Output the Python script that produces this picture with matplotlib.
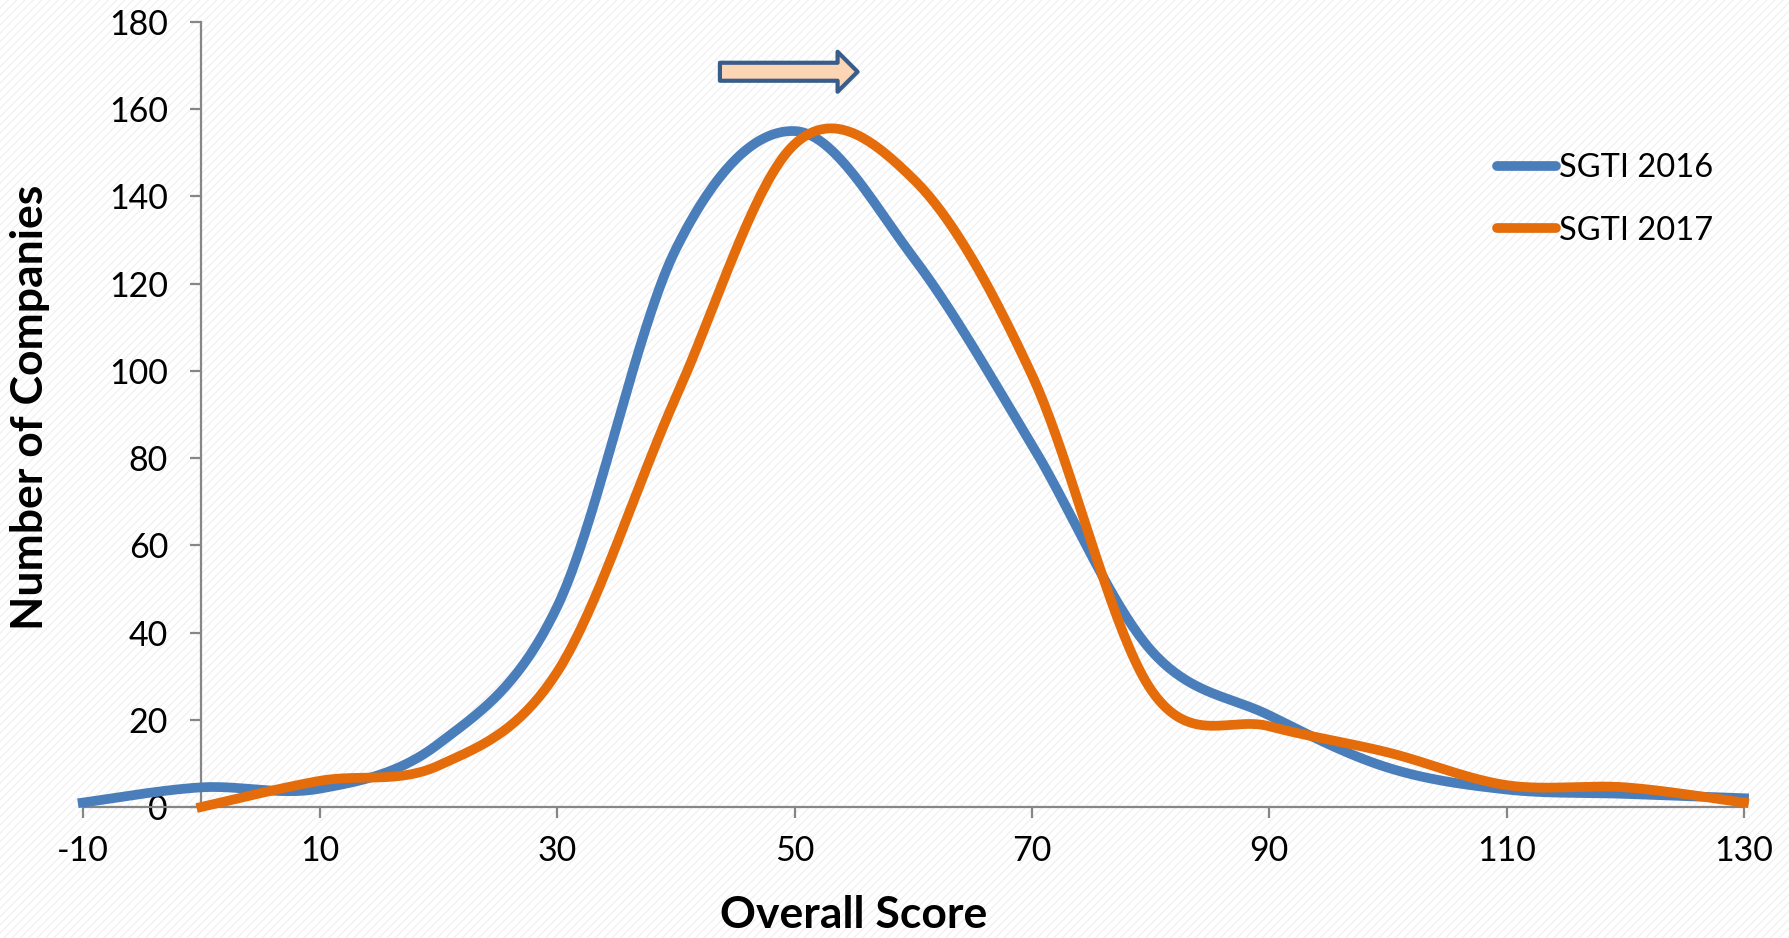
import numpy as np
import matplotlib.pyplot as plt
from matplotlib.lines import Line2D

plt.rcParams['font.family'] = ['Lato', 'DejaVu Sans']
plt.rcParams['axes.unicode_minus'] = False

# distribuzione dei punteggi (classi da 10 punti)
score_2016 = [-10, 0, 10, 20, 30, 40, 50, 60, 70, 80, 90, 100, 110, 120, 130]
count_2016 = [1, 4.5, 4.2, 14.5, 46, 128, 155, 126, 83, 36, 21, 9, 4, 3, 2]

score_2017 = [0, 10, 20, 30, 40, 50, 60, 70, 80, 90, 100, 110, 120, 130]
count_2017 = [0, 6, 9.5, 31, 94, 152, 144, 99, 27, 18.5, 12.5, 5, 4.5, 1]

x_ticks = [-10, 10, 30, 50, 70, 90, 110, 130]
y_ticks = list(range(0, 181, 20))

blu = '#4A7EBB'
arancio = '#E46C0A'
grigio = '#868686'


# linea smussata tipo Excel (Bezier con punti di controllo a 1/6)
def smussa(x, y, n=40):
    p = np.column_stack([x, y]).astype(float)
    out = [p[0]]
    t = np.linspace(0, 1, n)[1:, None]
    for i in range(len(p) - 1):
        p0 = p[i - 1] if i > 0 else p[i]
        p1, p2 = p[i], p[i + 1]
        p3 = p[i + 2] if i + 2 < len(p) else p[i + 1]
        c1 = p1 + (p2 - p0) / 6
        c2 = p2 - (p3 - p1) / 6
        seg = ((1 - t) ** 3) * p1 + 3 * ((1 - t) ** 2) * t * c1 \
            + 3 * (1 - t) * t ** 2 * c2 + t ** 3 * p2
        out.extend(seg)
    out = np.array(out)
    return out[:, 0], out[:, 1]


fig = plt.figure(figsize=(17.9, 9.38), dpi=100)
fig.patch.set_facecolor('white')
# leggero tratteggio di sfondo
sfondo = plt.Rectangle((0, 0), 1, 1, transform=fig.transFigure, facecolor='white',
                       edgecolor='#F1F1F1', hatch='////', linewidth=0, zorder=-10)
fig.patches.append(sfondo)
plt.rcParams['hatch.linewidth'] = 1.0

ax = fig.add_axes([0.0462, 0.1397, 0.9281, 0.8368])
ax.patch.set_alpha(0)

xs, ys = smussa(score_2016, count_2016)
ax.plot(xs, ys, color=blu, lw=7, solid_joinstyle='round', clip_on=False, zorder=3)
xs, ys = smussa(score_2017, count_2017)
ax.plot(xs, ys, color=arancio, lw=7, solid_joinstyle='round', clip_on=False, zorder=4)

ax.set_xlim(-10, 130)
ax.set_ylim(0, 180)
ax.set_xticks(x_ticks)
ax.set_yticks(y_ticks)

ax.spines['left'].set_position(('data', 0))
ax.spines['top'].set_visible(False)
ax.spines['right'].set_visible(False)
for s in ['left', 'bottom']:
    ax.spines[s].set_color(grigio)
    ax.spines[s].set_linewidth(1.6)
ax.tick_params(axis='both', direction='out', length=8, width=1.6, color=grigio,
               labelsize=24.5, labelcolor='black')
ax.tick_params(axis='x', pad=12)
ax.tick_params(axis='y', pad=16)

# freccia di spostamento verso destra
ax.annotate('', xy=(55.3, 168.6), xytext=(43.7, 168.6),
            arrowprops=dict(arrowstyle='simple,head_length=2.0,head_width=4.0,tail_width=1.8',
                            mutation_scale=7.2, fc='#FCD5B5', ec='#385D8A', lw=3,
                            shrinkA=0, shrinkB=0))

handles = [Line2D([], [], color=blu, lw=7, solid_capstyle='round'),
           Line2D([], [], color=arancio, lw=7, solid_capstyle='round')]
ax.legend(handles, ['SGTI 2016', 'SGTI 2017'], loc='upper left',
          bbox_to_anchor=(1497 / 1790, 1 - 153 / 938), bbox_transform=fig.transFigure,
          frameon=False, fontsize=23.5, handlelength=1.8, handletextpad=0.1,
          labelspacing=1.0, borderpad=0, borderaxespad=0)

fig.text(854 / 1790, 1 - 915 / 938, 'Overall Score', ha='center', va='center',
         fontsize=32, fontweight='bold')
fig.text(30 / 1790, 1 - 407 / 938, 'Number of Companies', ha='center', va='center',
         rotation=90, fontsize=32, fontweight='bold')

fig.savefig('out.png', dpi=100)
